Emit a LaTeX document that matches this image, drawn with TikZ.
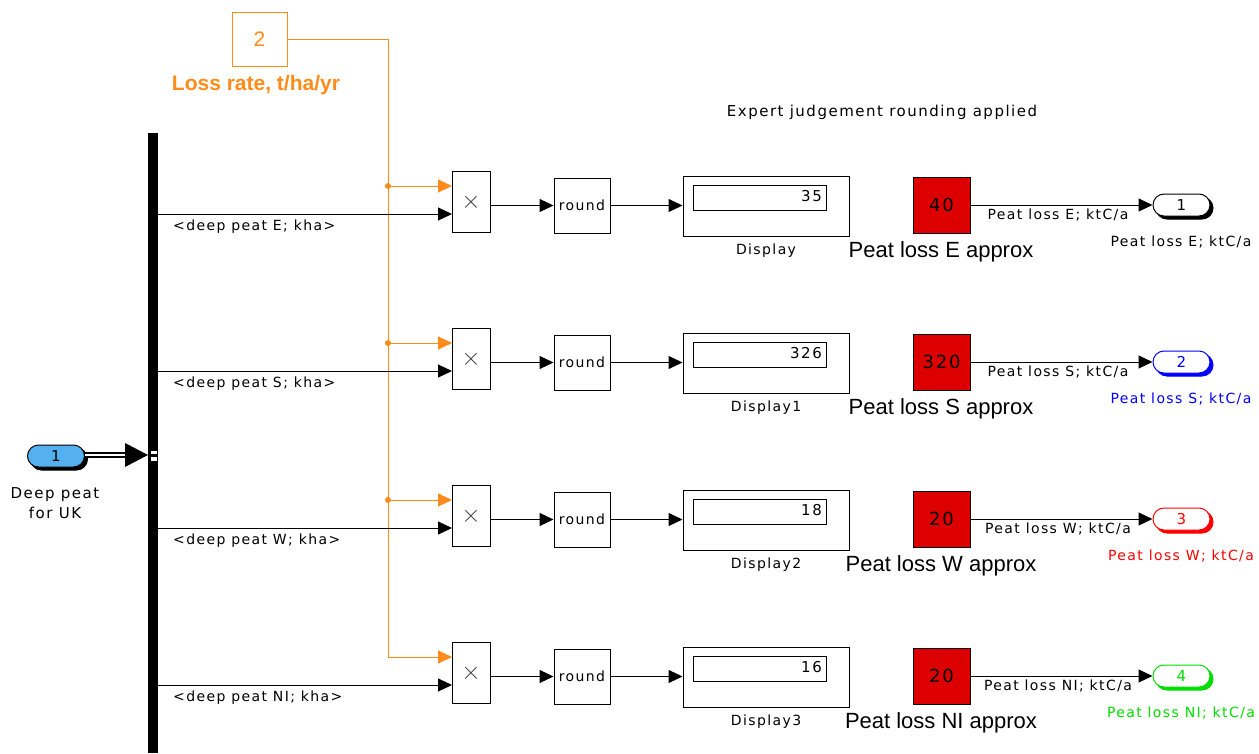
\documentclass[tikz,border=0pt]{standalone}
\usepackage{fontspec}
\setmainfont{Liberation Sans}
\newfontfamily\sm[LetterSpace=10]{DejaVu Sans}
\usetikzlibrary{arrows.meta}
\definecolor{sorange}{HTML}{FF8C1A}
\definecolor{sred}{HTML}{DD0000}
\definecolor{oc1}{HTML}{000000}
\definecolor{oc2}{HTML}{0000FF}
\definecolor{oc3}{HTML}{FF0000}
\definecolor{oc4}{HTML}{00DD00}
\definecolor{slightblue}{HTML}{55B0F0}
\begin{document}
\begin{tikzpicture}[x=1pt,y=-1pt,
  blk/.style={draw, line width=1pt, inner sep=0pt, fill=white},
  sig/.style={line width=1pt, -{Triangle[length=14pt,width=13pt]}},
  osig/.style={line width=1pt, draw=sorange, -{Triangle[length=14pt,width=13pt,fill=sorange]}},
  smtxt/.style={font={\sm\fontsize{14}{16}\selectfont}, inner sep=0pt},
  bigtxt/.style={font={\fontsize{22}{24}\selectfont}, inner sep=0pt},
  pill/.style={rounded corners=11pt, minimum width=57pt, minimum height=22pt, inner sep=0pt, line width=1pt}
]
\useasboundingbox (0,0) rectangle (1259,753);

% bus bar
\node[fill=black, minimum width=10pt, minimum height=620pt, inner sep=0pt] (bar) at (153,443) {};
\node[fill=white, minimum width=6pt, minimum height=3pt, inner sep=0pt] (notchA) at (153.5,452.5) {};
\node[fill=white, minimum width=6pt, minimum height=4pt, inner sep=0pt] (notchB) at (153.5,459) {};

% inport 1
\node[pill, fill=black, draw=black] (insh) at (59,459) {};
\node[pill, fill=slightblue, draw=black, font={\sm\fontsize{15}{17}\selectfont}] (in1) at (56,456) {1};
\node[font={\sm\fontsize{15}{17}\selectfont}, align=center, inner sep=0pt] (inlbl) at (55,503) {Deep peat\\[3pt]for UK};
\coordinate (barin) at (148,455);
\coordinate (busst) at (in1.east |- barin);
\draw[line width=6pt] (busst) -- ([xshift=-20pt]barin);
\draw[line width=2.4pt, white] (busst) -- ([xshift=-20pt]barin);
\fill[black] (barin) -- ++(-23,-12) -- ++(0,24) -- cycle;

% constant 2
\node[blk, draw=sorange, minimum width=55pt, minimum height=54pt, text=sorange, font={\fontsize{21}{23}\selectfont}] (cst) at (259.5,39) {2};
\node[font={\bfseries\fontsize{21}{23}\selectfont}, text=sorange, inner sep=0pt] (cstlbl) at (256,85) {Loss rate, t/ha/yr};

\node[font={\sm\fontsize{15}{17}\selectfont}, inner sep=0pt] (note) at (882,112) {Expert judgement rounding applied};

\coordinate (jn4) at (388,657);
\draw[line width=1pt, sorange] (cst.east) -| (jn4);

\foreach \i/\dy/\reg/\dv/\rv/\dname in {1/0/E/35/40/Display,2/157/S/326/320/Display1,3/314/W/18/20/Display2,4/471/NI/16/20/Display3}{
  \coordinate (jn\i) at (388,186+\dy);
  \coordinate (pa\i) at (452,186+\dy);
  \coordinate (pb\i) at (452,214+\dy);
  \coordinate (bo\i) at (158,214+\dy);
  \node[blk, minimum width=38pt, minimum height=61pt, font={\fontsize{24}{26}\selectfont}, text=black!75] (prod\i) at (471,202+\dy) {$\times$};
  \node[blk, minimum width=56pt, minimum height=55pt, font={\sm\fontsize{14}{16}\selectfont}] (rnd\i) at (582,205.5+\dy) {round};
  \node[blk, minimum width=166pt, minimum height=60pt] (disp\i) at (766,206+\dy) {};
  \node[blk, minimum width=133pt, minimum height=25pt] (dinner\i) at (759.5,197.5+\dy) {};
  \node[smtxt, anchor=east, font={\sm\fontsize{15}{17}\selectfont}] (dval\i) at (822,196+\dy) {\dv};
  \node[smtxt] (dlbl\i) at (766,251+\dy) {\dname};
  \node[blk, fill=sred, minimum width=57pt, minimum height=56pt, font={\sm\fontsize{18}{20}\selectfont}] (red\i) at (941.5,205+\dy) {\rv};
  \node[bigtxt] (alb\i) at (941,252+\dy) {Peat loss \reg\ approx};
  \node[pill, fill=oc\i, draw=oc\i] (osh\i) at (1184.5,208+\dy) {};
  \node[pill, fill=white, draw=oc\i, text=oc\i, font={\sm\fontsize{15}{17}\selectfont}] (out\i) at (1181.5,205+\dy) {\i};
  \node[smtxt, text=oc\i] (olbl\i) at (1181,242+\dy) {Peat loss \reg; ktC/a};
  \node[smtxt, anchor=north west] (blbl\i) at (173,220+\dy) {<deep peat \reg; kha>};
  \node[smtxt, anchor=north] (llbl\i) at (1058,209+\dy) {Peat loss \reg; ktC/a};
  % connectors
  \draw[sig] (bo\i) -- (pb\i);
  \draw[osig] (jn\i) -- (pa\i);
  \draw[sig] (prod\i.east |- rnd\i.west) -- (rnd\i.west);
  \draw[sig] (rnd\i.east) -- (disp\i.west |- rnd\i.east);
  \draw[sig] (red\i.east) -- (out\i.west);
}
\foreach \i in {1,2,3}{\fill[sorange] (jn\i) circle (3pt);}
\end{tikzpicture}
\end{document}
